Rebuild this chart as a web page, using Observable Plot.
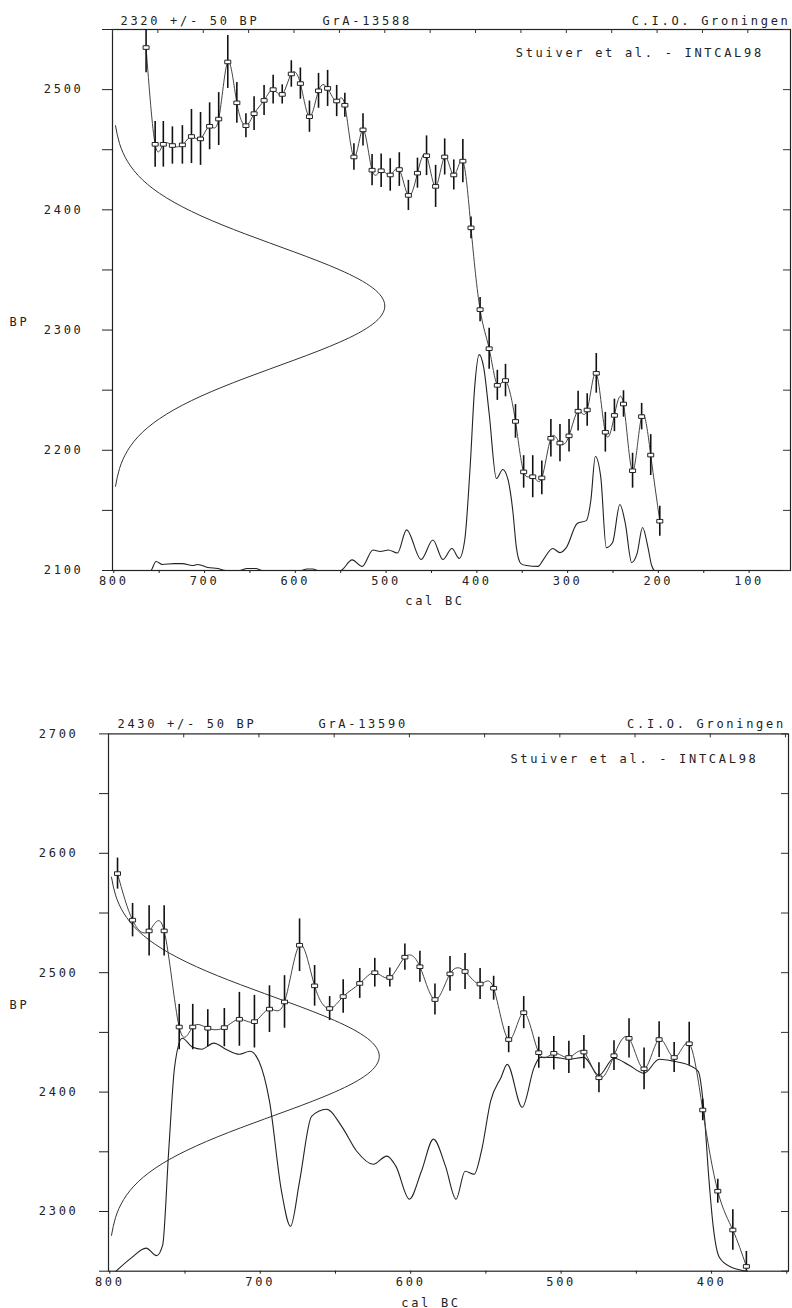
<!DOCTYPE html>
<html><head><meta charset="utf-8">
<script src="https://cdn.jsdelivr.net/npm/d3@7"></script>
<script src="https://cdn.jsdelivr.net/npm/@observablehq/plot@0.6"></script>
<style>
html,body{margin:0;padding:0;background:#fff;width:792px;height:1308px;overflow:hidden;}
.panel{position:absolute;left:0;}
#top{top:0px} #bot{top:700px}
svg text{font-family:"DejaVu Sans Mono",monospace;letter-spacing:2.7px;}
</style></head><body><div id="top" class="panel"></div><div id="bot" class="panel"></div>
<script>
// INTCAL98 calibration points (cal BC, BP, 1-sigma)
const calYear = [794,784,773,763,753,744,734,723,713,703,693,683,673,663,653,644,633,623,613,603,593,583,573,563,553,544,534,524,514,504,494,484,474,464,454,444,434,424,414,405,395,385,376,367,356,347,337,327,317,307,297,287,277,267,257,247,237,227,217,207,197];
const calBP = [2583,2544,2535,2535,2454.5,2454.5,2453.5,2454,2461,2459,2469.5,2475.5,2523,2489,2470,2480,2491,2500,2496,2513,2505,2477.5,2499,2501,2490.5,2487,2444,2466.5,2433,2432.5,2429,2433.5,2412,2430.5,2445,2419.5,2444,2429,2440.5,2385,2317,2284.5,2254,2258,2224,2182,2178,2177,2210,2206,2212,2232.5,2233.5,2264,2215,2229,2238.5,2183,2228,2196,2141];
const calErr = [13,14,21,21,19,19,15.5,16,22.5,22,19.5,22,22,17,10,14,12.5,12,8,11,13,13,14.5,15,13,10,11,13.5,13,14,13.5,14,12.5,12.5,16.5,17.5,15,12.5,18,9,10,17,12.5,13.5,14,13.5,17.5,14,15.5,15.5,13.5,16.5,13.5,16.5,16.5,13.5,11,14.5,11,17,12.5];

// Calibrated probability, sample GrA-13588 (percent of maximum)
const topDistYear = [762,758,752,745,732,723,712,706,695,684,675,660,652,642,635,592,586,579,574,549,536,525,513,505,496,486,476,460,447,436,426,418,412,406,401,396,391,385,377,370,364,359,355,350,344,331,326,315,307,300,288,278,273,268,262,256,249,241,235,228,222,216,210,206,203];
const topDistP = [0,0,4.2,2.8,3.2,3.2,2.3,2.8,1.4,0.9,0,0,0.9,0.9,0,0,0.7,0.7,0,0,4.9,1.9,9.5,8.8,9.5,8.1,18.8,5.1,14.1,5.1,10.2,5.6,13.9,47.7,84.7,100,94,72.7,42.6,46.8,41.7,27.8,10.6,3.2,2.3,1.9,4.6,10.2,8.3,10.6,21.8,23.1,32.4,52.8,43.1,10.6,13,30.6,21.8,3.7,7.9,19.9,10.6,2.3,0];

// Calibrated probability, sample GrA-13590 (percent of maximum)
const botDistYear = [795,785,775,768,764,760,756,751,744,738,730,722,713,706,700,693,685,679,673,665,655,645,635,624,615,609,600,592,584,576,569,563,557,552,546,539,535,525,517,513,504,494,484,474,464,454,444,434,424,414,408,404,401,398,394,386,375];
const botDistP = [0,5.6,9.9,6.7,11.2,51.5,88,100,96.1,95.3,97.9,95.3,93.1,94.4,90.1,73,34.3,19.3,38.6,66.5,69.5,62.2,51.5,45.9,49.4,45.1,30.9,42.9,56.7,45.1,30.9,42.9,41.6,51.9,73,83.3,88.8,70.4,87.6,91.8,91.8,91,91.8,84.1,91.4,88.4,85,91,90.1,88.4,85.8,67.4,40.3,18.9,6,1.7,0];

// Measured date distribution (offset from date in BP, percent of maximum)
const gaussOffset = [150,135,120,105,90,75,60,45,30,15,0,-15,-30,-45,-60,-75,-90,-105,-120,-135,-150];
const gaussAmp = [1.1,2.6,5.6,11,19.8,32.5,48.7,66.7,83.5,95.6,100,95.6,83.5,66.7,48.7,32.5,19.8,11,5.6,2.6,1.1];

// Tick values
const topYTicks = [2100,2150,2200,2250,2300,2350,2400,2450,2500,2550];
const botYTicks = [2250,2300,2350,2400,2450,2500,2550,2600,2650,2700];
const topXTicks = [800,750,700,650,600,550,500,450,400,350,300,250,200,150,100];
const botXTicks = [800,750,700,650,600,550,500,450,400,350];

const panels = [
  {el:"#top", date:2320, err:50, lab:"GrA-13588", height:620, mt:29, mb:50, ml:112, mr:2,
   xDomain:[800,53], yDomain:[2100,2550], yTicks:topYTicks, xTicks:topXTicks, tickLeft:10, tickPad:19,
   calFrom:763, calTo:197, distYear:topDistYear, distP:topDistP, distScale:179.6, gaussScale:300,
   hdrDy:-8, stDy:23.7, hdr:[8,210,0,-26.6], bpDy:22, calDx:-16.5, calDy:31},
  {el:"#bot", date:2430, err:50, lab:"GrA-13590", height:608, mt:33.4, mb:37.3, ml:108, mr:4,
   xDomain:[800,348], yDomain:[2250,2700], yTicks:botYTicks, xTicks:botXTicks, tickLeft:9, tickPad:21,
   calFrom:794, calTo:376, distYear:botDistYear, distP:botDistP, distScale:195.1, gaussScale:180,
   hdrDy:-9.4, stDy:25, hdr:[9,210,-2.6,-30], bpDy:3, calDx:-17.5, calDy:32}
];

const rectSymbol = {draw(ctx){ ctx.moveTo(-3,-1.8); ctx.lineTo(3,-1.8); ctx.lineTo(3,1.8); ctx.lineTo(-3,1.8); ctx.closePath(); }};
const hundreds = d => (d % 100 ? "" : String(d));

for (const c of panels) {
  const width = 792;
  const fw = width - c.ml - c.mr, fh = c.height - c.mt - c.mb;
  const cal = calYear.map((year,i)=>({year, bp:calBP[i], err:calErr[i]})).filter(d=>d.year<=c.calFrom && d.year>=c.calTo);
  const dist = c.distYear.map((year,i)=>({year, v:c.yDomain[0] + c.distP[i]/100*c.distScale}));
  const gauss = gaussOffset.map((o,i)=>({x:800 - gaussAmp[i]/100*c.gaussScale, y:c.date + o}));
  const txt = (s, o) => Plot.text([s], {text:d=>d, fontSize:12, fill:"#222", lineAnchor:"middle", ...o});
  const svg = Plot.plot({
    width, height:c.height, marginTop:c.mt, marginBottom:c.mb, marginLeft:c.ml, marginRight:c.mr,
    style:{fontFamily:"DejaVu Sans Mono, monospace", fontSize:"12px", color:"#222", background:"#fff", overflow:"visible"},
    x:{domain:c.xDomain}, y:{domain:c.yDomain},
    marks:[
      Plot.frame({stroke:"#222", strokeWidth:1.2}),
      Plot.axisY({ticks:c.yTicks, tickSize:c.tickLeft, tickPadding:c.tickPad, tickFormat:hundreds, label:null, fontSize:12, stroke:"#222", fill:"#222"}),
      Plot.axisX({ticks:c.xTicks, tickSize:3, tickPadding:3, tickFormat:hundreds, label:null, fontSize:12, stroke:"#222", fill:"#222", dx:1.3}),
      Plot.tickY(c.yTicks, {y:d=>d, insetLeft:fw-7, stroke:"#333"}),
      Plot.tickX(c.xTicks, {x:d=>d, insetBottom:fh-4, stroke:"#333"}),
      Plot.line(gauss, {x:"x", y:"y", curve:"natural", stroke:"#333", strokeWidth:1}),
      Plot.line(dist, {x:"year", y:"v", curve:"monotone-x", stroke:"#222", strokeWidth:1.1}),
      Plot.line(cal, {x:"year", y:"bp", curve:"natural", stroke:"#444", strokeWidth:1, clip:true}),
      Plot.ruleX(cal, {x:"year", y1:d=>d.bp-d.err, y2:d=>d.bp+d.err, stroke:"#111", strokeWidth:1.6, clip:true}),
      Plot.dot(cal, {x:"year", y:"bp", symbol:rectSymbol, r:2, fill:"#fff", stroke:"#222", strokeWidth:1}),
      txt(`${c.date} +/- ${c.err} BP`, {frameAnchor:"top-left", textAnchor:"start", dx:c.hdr[0], dy:c.hdrDy}),
      txt(c.lab, {frameAnchor:"top-left", textAnchor:"start", dx:c.hdr[1], dy:c.hdrDy}),
      txt("C.I.O. Groningen", {frameAnchor:"top-right", textAnchor:"end", dx:c.hdr[2], dy:c.hdrDy}),
      txt("Stuiver et al. - INTCAL98", {frameAnchor:"top-right", textAnchor:"end", dx:c.hdr[3], dy:c.stDy}),
      txt("BP", {frameAnchor:"left", textAnchor:"middle", dx:19-c.ml, dy:c.bpDy}),
      txt("cal BC", {frameAnchor:"bottom", textAnchor:"middle", dx:c.calDx, dy:c.calDy})
    ]
  });
  document.querySelector(c.el).append(svg);
}
</script></body></html>
